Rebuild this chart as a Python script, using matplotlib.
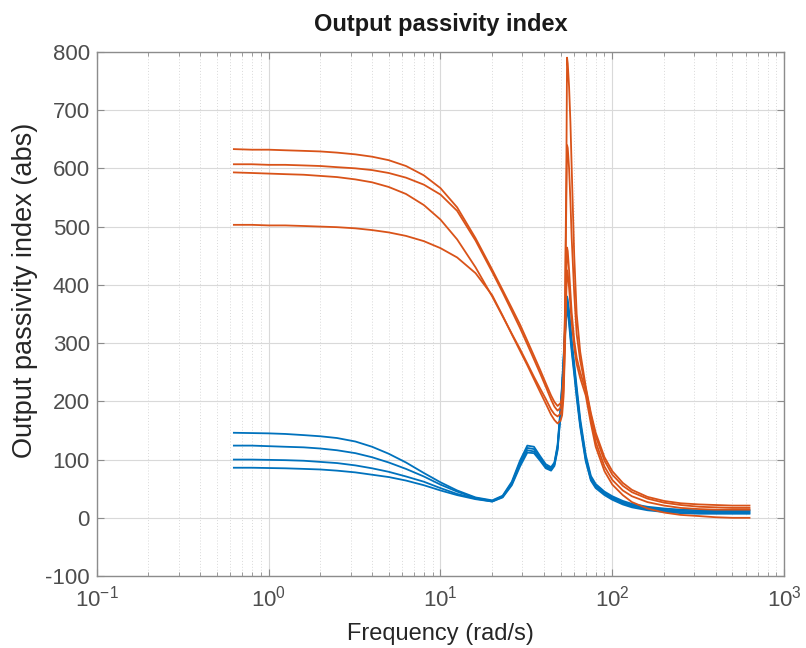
import numpy as np
import matplotlib
matplotlib.use("Agg")
import matplotlib.pyplot as plt
from matplotlib.ticker import LogLocator, MultipleLocator

plt.rcParams['font.family'] = ['Liberation Sans', 'DejaVu Sans']
plt.rcParams['mathtext.fontset'] = 'custom'
plt.rcParams['mathtext.rm'] = 'Liberation Sans'
plt.rcParams['axes.unicode_minus'] = False

# Frequency points (rad/s)
freq = [0.628, 0.8, 1.0, 1.25, 1.6, 2.0, 2.5, 3.2, 4.0, 5.0,
        6.3, 8.0, 10, 12.5, 16, 20, 23, 26, 29, 32,
        35, 38, 41, 44, 46, 48, 50, 51, 52, 53,
        54, 54.5, 55, 56, 57, 58, 60, 62, 65, 70,
        75, 80, 90, 100, 115, 130, 160, 200, 250, 320,
        400, 500, 628]

# Orange curves
orange_a = [633, 632, 632, 631, 630, 629, 627, 624, 620, 614,
            604, 588, 566, 533, 480, 426, 391, 360, 332, 304,
            278, 254, 231, 210, 199, 192, 197, 208, 245, 355,
            600, 790, 780, 740, 680, 600, 450, 350, 285, 225,
            180, 146, 104, 80, 60, 48, 36, 29, 25, 23,
            22, 21, 21]
orange_b = [607, 607, 606, 606, 605, 604, 602, 600, 597, 592,
            584, 572, 555, 527, 476, 422, 387, 355, 326, 298,
            272, 248, 225, 203, 191, 184, 189, 199, 235, 340,
            550, 640, 635, 600, 545, 480, 385, 315, 270, 222,
            176, 140, 98, 74, 55, 44, 33, 26, 22, 19,
            18, 17, 17]
orange_c = [593, 592, 591, 590, 589, 587, 585, 581, 576, 568,
            556, 537, 512, 478, 430, 380, 346, 316, 290, 265,
            242, 222, 204, 186, 178, 174, 179, 188, 220, 305,
            415, 464, 458, 425, 388, 352, 305, 275, 250, 218,
            170, 130, 88, 65, 47, 37, 27, 21, 17, 15,
            14, 14, 14]
orange_d = [503, 503, 502, 502, 501, 500, 499, 497, 494, 490,
            484, 475, 463, 447, 420, 382, 347, 315, 287, 262,
            238, 216, 196, 177, 168, 162, 167, 176, 208, 290,
            390, 425, 420, 395, 365, 335, 292, 264, 240, 210,
            162, 122, 80, 57, 39, 27, 16, 9, 5, 3,
            1, 0, 0]

# Blue curves
blue_e = [146, 145.5, 145, 144, 142, 140, 137, 131, 122, 110,
          95, 77, 61, 47, 35, 30, 38, 62, 98, 124,
          122, 106, 92, 87, 95, 125, 190, 230, 275, 325,
          370, 380, 375, 355, 330, 305, 265, 225, 170, 108,
          72, 58, 45, 37, 29, 24, 19, 16, 14, 13,
          13, 13, 13]
blue_f = [124, 124, 123, 122, 121, 119, 116, 111, 104, 95,
          84, 71, 57, 45, 34, 29, 37, 60, 95, 120,
          118, 103, 89, 85, 93, 122, 186, 226, 270, 320,
          362, 372, 368, 348, 323, 298, 258, 218, 164, 104,
          69, 56, 43, 35, 27, 22, 17, 14, 12, 11,
          11, 11, 11]
blue_g = [100, 100, 99.5, 99, 98, 96, 94, 90, 85, 79,
          71, 62, 51, 41, 33, 28, 36, 58, 91, 116,
          114, 100, 87, 83, 91, 119, 182, 222, 265, 315,
          355, 365, 360, 340, 315, 292, 252, 212, 160, 100,
          66, 53, 41, 33, 25, 20, 15, 12, 10, 9,
          9, 9, 9]
blue_h = [86, 86, 85.5, 85, 84, 83, 81, 78, 74, 70,
          64, 56, 47, 39, 32, 28, 35, 56, 88, 112,
          111, 98, 85, 81, 89, 116, 178, 218, 260, 310,
          348, 358, 353, 333, 308, 285, 246, 206, 156, 97,
          64, 51, 39, 31, 23, 18, 13, 10, 8, 7,
          7, 7, 7]

ORANGE = '#D95319'
BLUE = '#0072BD'

fig = plt.figure(figsize=(8.06, 6.48), dpi=100)
ax = fig.add_axes([0.120, 0.111, 0.853, 0.809])

for ys in (blue_e, blue_f, blue_g, blue_h):
    ax.plot(freq, ys, color=BLUE, lw=1.3)
for ys in (orange_a, orange_b, orange_c, orange_d):
    ax.plot(freq, ys, color=ORANGE, lw=1.3)

ax.set_xscale('log')
ax.set_xlim(0.1, 1000)
ax.set_ylim(-100, 800)
ax.yaxis.set_major_locator(MultipleLocator(100))
ax.xaxis.set_major_locator(LogLocator(base=10, numticks=10))
ax.xaxis.set_minor_locator(LogLocator(base=10, subs=np.arange(2, 10), numticks=20))

ax.grid(True, which='major', color='#d9d9d9', lw=0.8, ls='-')
ax.grid(True, which='minor', color='#d9d9d9', lw=0.7, ls=(0, (1, 2)))
ax.set_axisbelow(True)

for s in ax.spines.values():
    s.set_color('#8c8c8c')
    s.set_linewidth(1.0)
ax.tick_params(which='both', direction='in', top=True, right=True, colors='#8c8c8c',
               labelcolor='#4d4d4d', labelsize=16)
ax.tick_params(which='major', length=5)
ax.tick_params(which='minor', length=3)
ax.tick_params(axis='x', pad=7)
ax.tick_params(axis='y', pad=5)

ax.set_title('Output passivity index', fontsize=17, fontweight='bold', color='#1a1a1a', pad=15)
ax.set_xlabel('Frequency (rad/s)', fontsize=17, color='#262626', labelpad=8)
ax.set_ylabel('Output passivity index (abs)', fontsize=19.5, color='#262626')
ax.yaxis.set_label_coords(-0.085, 0.545)

fig.savefig('out.png', dpi=100)
